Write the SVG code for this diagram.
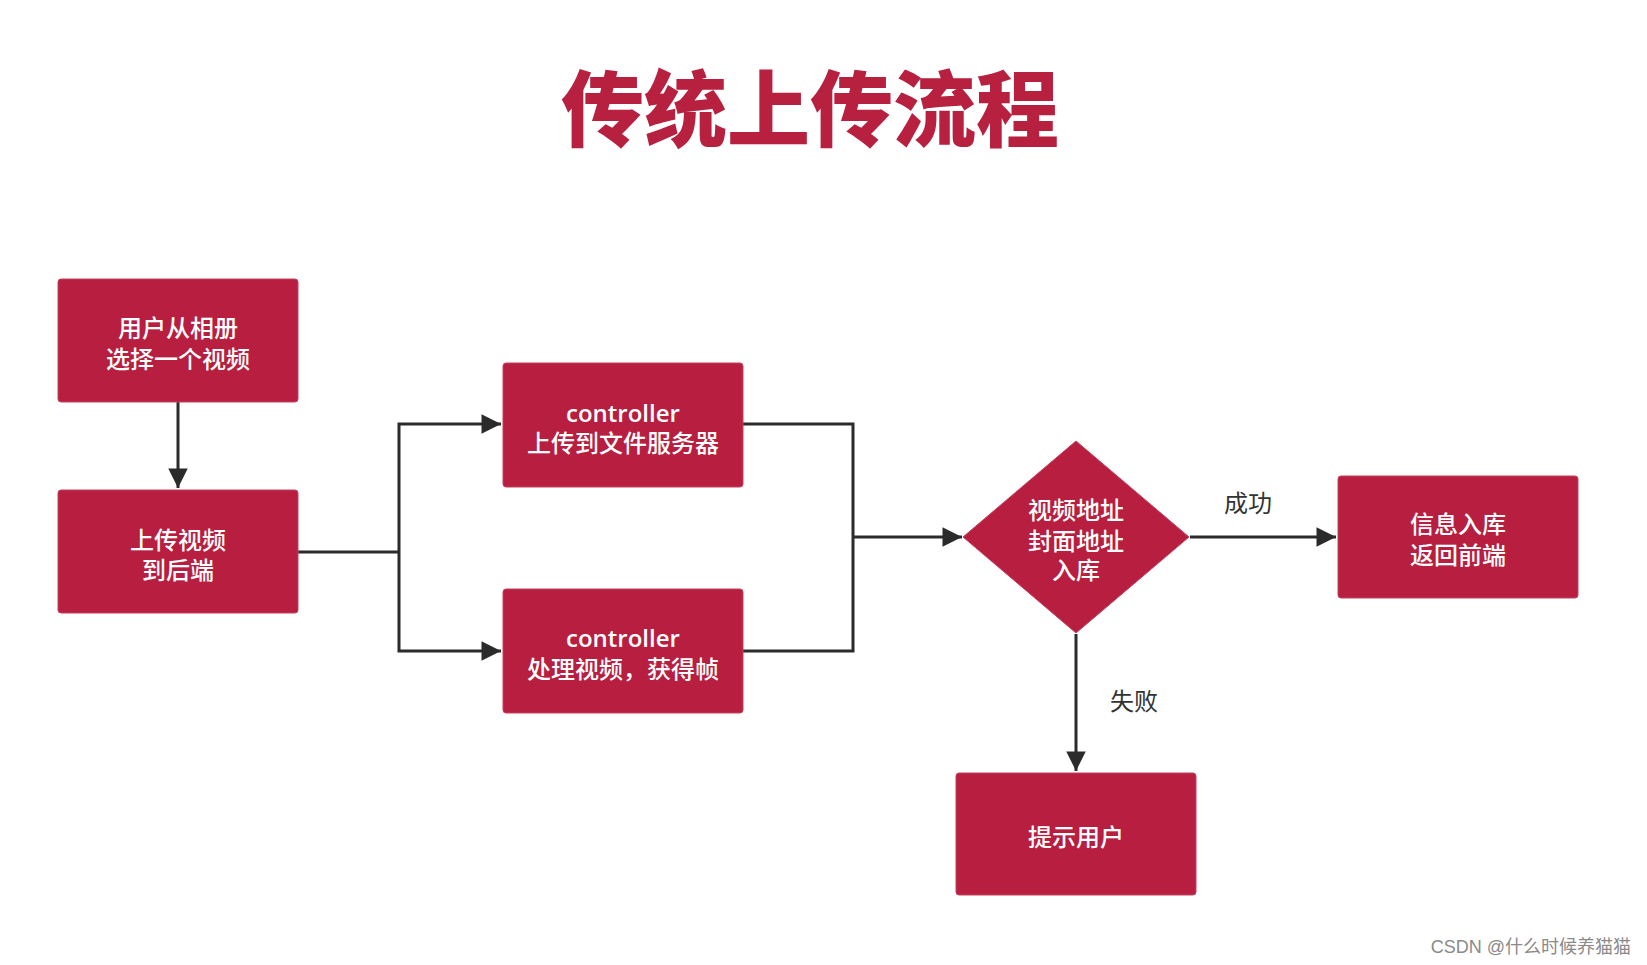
<svg xmlns="http://www.w3.org/2000/svg" width="1647" height="965" viewBox="0 0 1647 965">
<style>
.box{fill:#b71e3f;stroke:#c4435d;stroke-width:1}
.t{font-family:"Liberation Sans","Noto Sans CJK SC",sans-serif;font-size:24px;font-weight:500;fill:#ffffff;text-anchor:middle}
.lat{font-family:"Open Sans","Noto Sans",sans-serif;font-weight:600}
.lbl{font-family:"Noto Sans CJK SC",sans-serif;font-size:24px;fill:#333333;text-anchor:middle}
.ln{fill:none;stroke:#2b2b2b;stroke-width:3}
</style>
<defs>
<marker id="ah" viewBox="0 0 10 10" refX="10" refY="5" markerWidth="10" markerHeight="6.5" markerUnits="strokeWidth" orient="auto">
<path d="M0,0 L10,5 L0,10 z" fill="#2b2b2b"/>
</marker>
</defs>
<rect width="1647" height="965" fill="#ffffff"/>
<text x="810" y="140" style="font-family:'Noto Sans CJK SC',sans-serif;font-size:83px;font-weight:900;fill:#b8203f;text-anchor:middle">传统上传流程</text>

<g id="connectors">
<path class="ln" d="M178,402 V488" marker-end="url(#ah)"/>
<path class="ln" d="M298,552 H399"/>
<path class="ln" d="M399,552 V424 H501" marker-end="url(#ah)"/>
<path class="ln" d="M399,552 V651 H501" marker-end="url(#ah)"/>
<path class="ln" d="M743,424 H853 V651 H743"/>
<path class="ln" d="M853,537 H962" marker-end="url(#ah)"/>
<path class="ln" d="M1190,537 H1336" marker-end="url(#ah)"/>
<path class="ln" d="M1076,634 V771" marker-end="url(#ah)"/>
<text class="lbl" x="1248" y="512">成功</text>
<text class="lbl" x="1134" y="710">失败</text>
</g>

<g id="n1">
<rect class="box" x="58" y="279" width="240" height="123" rx="3"/>
<text class="t" x="178" y="337">用户从相册<tspan x="178" dy="31">选择一个视频</tspan></text>
</g>
<g id="n2">
<rect class="box" x="58" y="490" width="240" height="123" rx="3"/>
<text class="t" x="178" y="549">上传视频<tspan x="178" dy="30">到后端</tspan></text>
</g>
<g id="n3">
<rect class="box" x="503" y="363" width="240" height="124" rx="3"/>
<text class="t" x="623" y="422"><tspan class="lat">controller</tspan><tspan x="623" dy="30">上传到文件服务器</tspan></text>
</g>
<g id="n4">
<rect class="box" x="503" y="589" width="240" height="124" rx="3"/>
<text class="t" x="623" y="647"><tspan class="lat">controller</tspan><tspan x="623" dy="31">处理视频，获得帧</tspan></text>
</g>
<g id="n5">
<polygon class="box" points="1076,441 1189,537 1076,633 963,537"/>
<text class="t" x="1076" y="519">视频地址<tspan x="1076" dy="31">封面地址</tspan><tspan x="1076" dy="29">入库</tspan></text>
</g>
<g id="n6">
<rect class="box" x="1338" y="476" width="240" height="122" rx="3"/>
<text class="t" x="1458" y="533">信息入库<tspan x="1458" dy="31">返回前端</tspan></text>
</g>
<g id="n7">
<rect class="box" x="956" y="773" width="240" height="122" rx="3"/>
<text class="t" x="1076" y="846">提示用户</text>
</g>
<text x="1631" y="953" style="font-family:'Liberation Sans','Noto Sans CJK SC',sans-serif;font-size:18px;fill:#8a8a8a;text-anchor:end">CSDN @什么时候养猫猫</text>
</svg>
